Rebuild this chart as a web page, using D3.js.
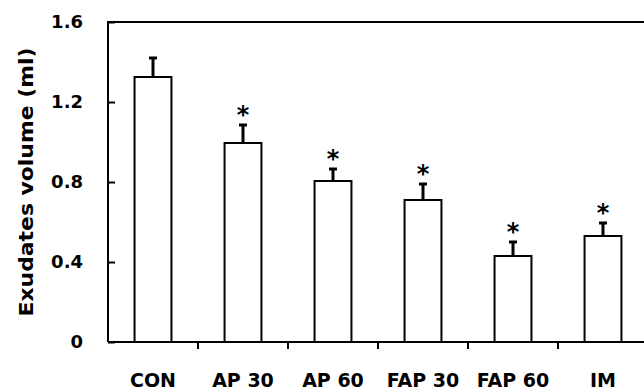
<!DOCTYPE html>
<html>
<head>
<meta charset="utf-8">
<script src="https://cdn.jsdelivr.net/npm/d3@7"></script>
<style>
  body { margin: 0; background: #fff; }
  text { font-family: "DejaVu Sans", Arial, sans-serif; font-weight: bold; fill: #000; }
</style>
</head>
<body>
<div class="chart"></div>
<script>
// data
var groups = ["CON", "AP 30", "AP 60", "FAP 30", "FAP 60", "IM"];
var means = [1.325, 0.995, 0.805, 0.71, 0.43, 0.53];
var errs = [0.095, 0.09, 0.06, 0.08, 0.07, 0.065];
var signif = ["", "*", "*", "*", "*", "*"];
var yTicks = [0, 0.4, 0.8, 1.2, 1.6];

var width = 644, height = 391;
var svg = d3.select(".chart")
	.append("svg")
	.attr("width", width)
	.attr("height", height);

var x = d3.scaleBand()
	.domain(groups)
	.range([108, 648])
	.paddingInner(0.59)
	.paddingOuter(0.295);
var y = d3.scaleLinear()
	.domain([0, 1.6])
	.range([342, 22]);

// frame (left, top)
svg.append("path")
	.attr("d", "M" + 108 + "," + y(0) + "V" + y(1.6) + "H" + width)
	.attr("fill", "none")
	.attr("stroke", "#000")
	.attr("stroke-width", 2);

// y axis, ticks pointing inside
var yAxis = svg.append("g")
	.attr("transform", "translate(108,0)")
	.call(d3.axisRight(y).tickValues(yTicks).tickSize(7).tickFormat(function(d) { return d === 0 ? "0" : d3.format(".1f")(d); }));
yAxis.select(".domain").remove();
yAxis.selectAll("line").attr("stroke-width", 2);
yAxis.selectAll("text")
	.attr("x", -25)
	.attr("text-anchor", "end")
	.attr("font-family", null)
	.style("font-size", "18px");

// x axis
var xAxis = svg.append("g")
	.attr("transform", "translate(0," + y(0) + ")")
	.call(d3.axisBottom(x).tickSize(0).tickPadding(0));
xAxis.select(".domain").attr("stroke-width", 2).attr("d", "M108,0H" + width);
xAxis.selectAll("text")
	.attr("dy", null)
	.attr("y", 45)
	.style("font-size", "19px");
xAxis.attr("font-family", null);
yAxis.attr("font-family", null);

// ticks between categories
var step = x.step();
svg.selectAll(".xtick")
	.data(groups.slice(1))
	.enter()
	.append("line")
	.attr("x1", function(d) { return x(d) - (step - x.bandwidth()) / 2; })
	.attr("x2", function(d) { return x(d) - (step - x.bandwidth()) / 2; })
	.attr("y1", y(0))
	.attr("y2", y(0) + 7)
	.attr("stroke", "#000")
	.attr("stroke-width", 2);

// error bars
svg.selectAll(".err")
	.data(groups)
	.enter()
	.append("line")
	.attr("x1", function(d) { return x(d) + x.bandwidth() / 2; })
	.attr("x2", function(d) { return x(d) + x.bandwidth() / 2; })
	.attr("y1", function(d, i) { return y(means[i]); })
	.attr("y2", function(d, i) { return y(means[i] + errs[i]); })
	.attr("stroke", "#000")
	.attr("stroke-width", 3);
svg.selectAll(".cap")
	.data(groups)
	.enter()
	.append("line")
	.attr("x1", function(d) { return x(d) + x.bandwidth() / 2 - 4; })
	.attr("x2", function(d) { return x(d) + x.bandwidth() / 2 + 4; })
	.attr("y1", function(d, i) { return y(means[i] + errs[i]); })
	.attr("y2", function(d, i) { return y(means[i] + errs[i]); })
	.attr("stroke", "#000")
	.attr("stroke-width", 3);

// bars
svg.selectAll(".bar")
	.data(groups)
	.enter()
	.append("rect")
	.attr("x", function(d) { return x(d); })
	.attr("y", function(d, i) { return y(means[i]); })
	.attr("width", x.bandwidth())
	.attr("height", function(d, i) { return y(0) - y(means[i]); })
	.attr("fill", "#fff")
	.attr("stroke", "#000")
	.attr("stroke-width", 2);

// significance stars
svg.selectAll(".star")
	.data(groups)
	.enter()
	.append("text")
	.attr("x", function(d) { return x(d) + x.bandwidth() / 2; })
	.attr("y", function(d, i) { return y(means[i] + errs[i]) - 2; })
	.attr("text-anchor", "middle")
	.style("font-size", "24px")
	.text(function(d, i) { return signif[i]; });

// y label
svg.append("text")
	.attr("transform", "translate(33," + 182 + ") rotate(-90)")
	.attr("text-anchor", "middle")
	.attr("textLength", 269)
	.attr("lengthAdjust", "spacingAndGlyphs")
	.style("font-size", "19px")
	.text("Exudates volume (ml)");
</script>
</body>
</html>
